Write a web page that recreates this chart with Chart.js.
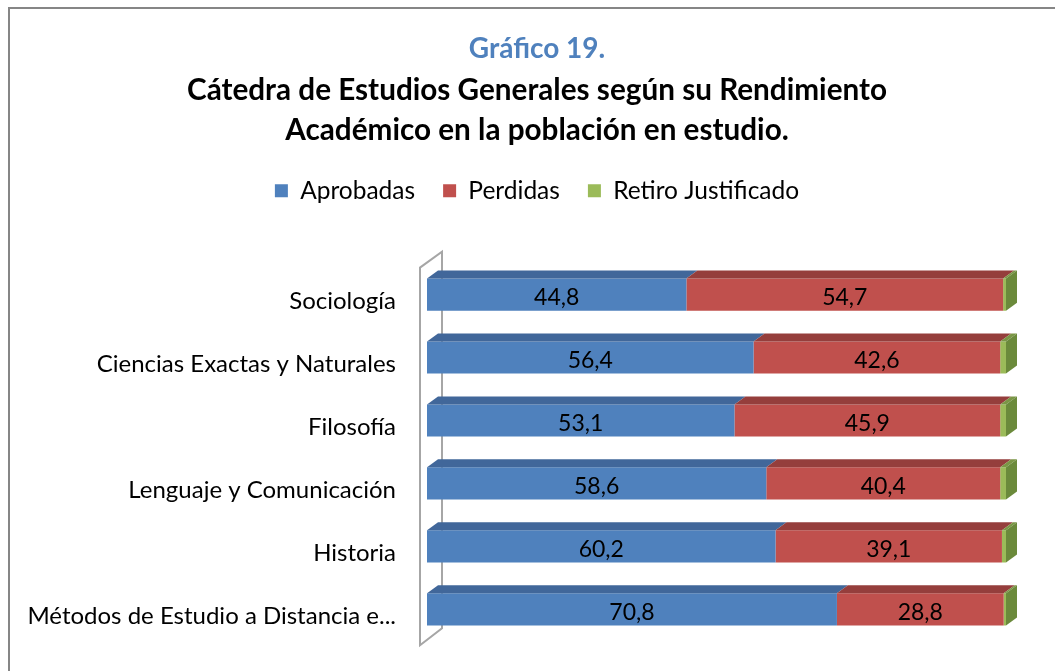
<!DOCTYPE html>
<html>
<head>
<meta charset="utf-8">
<script src="https://cdn.jsdelivr.net/npm/chart.js@4/dist/chart.umd.min.js"></script>
<style>
  html, body { margin: 0; padding: 0; background: #fff; overflow: hidden; }
  #wrap { position: relative; width: 1055px; height: 671px; }
  #marco { position: absolute; left: 8px; top: 7px; width: 1100px; height: 700px;
           border: 2px solid #868686; pointer-events: none; }
  canvas { position: absolute; left: 0; top: 0; }
</style>
</head>
<body>
<div id="wrap">
  <canvas id="rendimientoChart" width="1055" height="671"></canvas>
  <div id="marco"></div>
</div>
<script>
const categorias = ['Sociología', 'Ciencias Exactas y Naturales', 'Filosofía', 'Lenguaje y Comunicación', 'Historia', 'Métodos de Estudio a Distancia e...'];
const aprobadas = [44.8, 56.4, 53.1, 58.6, 60.2, 70.8];
const perdidas = [54.7, 42.6, 45.9, 40.4, 39.1, 28.8];
const retiro = [0.5, 1.0, 1.0, 1.0, 0.7, 0.4];

const fuente = 'Lato, "Open Sans", sans-serif';
const coloresFrente = ['#4F81BD', '#C0504D', '#9BBB59'];
const coloresTapa = ['#41679A', '#953E3C', '#7A9645'];
const colorLado = '#6B8A3B';

// caras superiores y lateral de las barras, y la pared del eje
const efecto3D = {
    id: 'efecto3D',
    beforeDatasetsDraw(chart) {
        const { ctx, chartArea } = chart;
        const L = chartArea.left - 7, T = chartArea.top + 4.5, B = chartArea.bottom + 4.5;
        ctx.save();
        ctx.strokeStyle = '#A6A6A6';
        ctx.lineWidth = 2;
        ctx.beginPath();
        ctx.moveTo(L, T);
        ctx.lineTo(L, B);
        ctx.lineTo(L + 22, B - 17);
        ctx.lineTo(L + 22, T - 16);
        ctx.closePath();
        ctx.stroke();
        ctx.restore();
    },
    afterDatasetsDraw(chart) {
        const ctx = chart.ctx;
        const dx = 11, dy = -8;
        ctx.save();
        chart.data.datasets.forEach((ds, i) => {
            const meta = chart.getDatasetMeta(i);
            meta.data.forEach(bar => {
                const { x, y, base, height } = bar.getProps(['x', 'y', 'base', 'height'], true);
                const top = y - height / 2;
                ctx.fillStyle = coloresTapa[i];
                ctx.beginPath();
                ctx.moveTo(base, top);
                ctx.lineTo(base + dx, top + dy);
                ctx.lineTo(x + dx, top + dy);
                ctx.lineTo(x, top);
                ctx.closePath();
                ctx.fill();
            });
        });
        const ultima = chart.getDatasetMeta(chart.data.datasets.length - 1);
        ultima.data.forEach(bar => {
            const { x, y, height } = bar.getProps(['x', 'y', 'height'], true);
            const top = y - height / 2, bottom = y + height / 2;
            ctx.fillStyle = colorLado;
            ctx.beginPath();
            ctx.moveTo(x, top);
            ctx.lineTo(x + dx, top + dy);
            ctx.lineTo(x + dx, bottom + dy);
            ctx.lineTo(x, bottom);
            ctx.closePath();
            ctx.fill();
        });
        ctx.restore();
    }
};

// etiquetas de valor dentro de las barras
const etiquetas = {
    id: 'etiquetas',
    afterDatasetsDraw(chart) {
        const ctx = chart.ctx;
        ctx.save();
        ctx.font = '23px ' + fuente;
        ctx.fillStyle = '#000';
        ctx.textAlign = 'center';
        ctx.textBaseline = 'middle';
        [0, 1].forEach(i => {
            const meta = chart.getDatasetMeta(i);
            meta.data.forEach((bar, j) => {
                const { x, y, base } = bar.getProps(['x', 'y', 'base'], true);
                const valor = chart.data.datasets[i].data[j];
                ctx.fillText(valor.toFixed(1).replace('.', ','), (x + base) / 2, y + 3);
            });
        });
        ctx.restore();
    }
};

const ctx = document.getElementById('rendimientoChart').getContext('2d');
new Chart(ctx, {
    type: 'bar',
    data: {
        labels: categorias,
        datasets: [
            { label: 'Aprobadas', data: aprobadas, backgroundColor: coloresFrente[0] },
            { label: 'Perdidas', data: perdidas, backgroundColor: coloresFrente[1] },
            { label: 'Retiro Justificado', data: retiro, backgroundColor: coloresFrente[2] }
        ]
    },
    options: {
        indexAxis: 'y',
        responsive: false,
        animation: false,
        barPercentage: 0.51,
        categoryPercentage: 1,
        layout: { padding: { left: 20, right: 1, top: 0, bottom: 0 } },
        plugins: {
            title: {
                display: true,
                text: 'Gráfico 19.',
                color: '#4F81BD',
                font: { family: fuente, size: 28, weight: 'bold', lineHeight: 1.2 },
                padding: { top: 32, bottom: 5 }
            },
            subtitle: {
                display: true,
                text: ['Cátedra de Estudios Generales según su Rendimiento', 'Académico en la población en estudio.'],
                color: '#000',
                font: { family: fuente, size: 29.7, weight: 'bold', lineHeight: 40 / 29.7 },
                padding: { top: 0, bottom: 0 }
            },
            legend: {
                position: 'top',
                labels: {
                    color: '#000',
                    font: { family: fuente, size: 24.5 },
                    boxWidth: 13,
                    boxHeight: 13,
                    padding: 28
                }
            },
            tooltip: { enabled: false }
        },
        scales: {
            x: {
                stacked: true,
                min: 0,
                max: 100,
                position: 'top',
                grid: { display: false },
                border: { display: false },
                ticks: { display: false },
                afterFit(scale) { scale.height = 50; }
            },
            y: {
                stacked: true,
                grid: { display: false },
                border: { display: false },
                ticks: {
                    color: '#000',
                    font: { family: fuente, size: 24, lineHeight: 0.6 },
                    padding: 23,
                    labelOffset: 7
                },
                afterFit(scale) { scale.width = 427 - 20; }
            },
            margenDerecho: {
                type: 'category',
                axis: 'y',
                position: 'right',
                grid: { display: false },
                border: { display: false },
                ticks: { display: false },
                afterFit(scale) { scale.width = 48; }
            }
        }
    },
    plugins: [efecto3D, etiquetas]
});
</script>
</body>
</html>
